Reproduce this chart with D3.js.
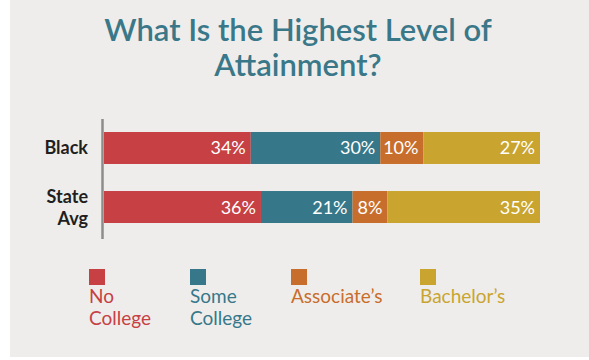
<!DOCTYPE html>
<html><head><meta charset="utf-8">
<script src="https://cdn.jsdelivr.net/npm/d3@7"></script>
<style>
html,body{margin:0;padding:0;background:#fff;}
svg{display:block;}
text{font-family:Lato,"Open Sans",sans-serif;}
</style></head>
<body><svg id="chart" width="589" height="360"></svg>
<script>
const titleLines = ["What Is the Highest Level of", "Attainment?"];
const groups = [["Black"], ["State", "Avg"]];
const seriesNames = ["No College", "Some College", "Associate’s", "Bachelor’s"];
const legendLines = [["No", "College"], ["Some", "College"], ["Associate’s"], ["Bachelor’s"]];
const noCollege = [34, 36];
const someCollege = [30, 21];
const associates = [10, 8];
const bachelors = [27, 35];
const colors = ["#c64044", "#36788a", "#c86e2c", "#c9a530"];

const svg = d3.select("#chart");
const W = 589, H = 360;
svg.append("rect").attr("x", 10).attr("y", 0).attr("width", W - 10).attr("height", 357).attr("fill", "#efedeb");

// title
svg.append("g").selectAll("text").data(titleLines).join("text")
  .attr("x", 298).attr("y", (d, i) => 41 + i * 35)
  .attr("text-anchor", "middle").attr("fill", "#3a7889")
  .attr("font-size", 31).attr("font-weight", 600)
  .text(d => d);

const rows = groups.map((g, i) => ({
  key: i,
  "No College": noCollege[i], "Some College": someCollege[i],
  "Associate’s": associates[i], "Bachelor’s": bachelors[i]
}));
const stack = d3.stack().keys(seriesNames).offset(d3.stackOffsetExpand);
const stacked = stack(rows);

const x = d3.scaleLinear().domain([0, 1]).range([104, 540]);
const y = d3.scaleBand().domain(d3.range(groups.length)).range([132, 223]).paddingInner(0.458).paddingOuter(0);

const layers = svg.append("g").selectAll("g").data(stacked).join("g")
  .attr("fill", (d, i) => colors[i]);
layers.selectAll("rect").data(d => d).join("rect")
  .attr("x", d => x(d[0])).attr("width", d => x(d[1]) - x(d[0]))
  .attr("y", (d, i) => y(i)).attr("height", y.bandwidth());

layers.each(function(layer, li) {
  d3.select(this).selectAll("text").data(layer).join("text")
    .attr("x", d => x(d[1]) - 5)
    .attr("y", (d, i) => y(i) + y.bandwidth() / 2 + 6.5)
    .attr("text-anchor", "end").attr("fill", "#fff")
    .attr("font-size", 18).attr("font-weight", 400)
    .text((d, i) => rows[i][seriesNames[li]] + "%");
});

// axis line
svg.append("line").attr("x1", 102.5).attr("x2", 102.5).attr("y1", 119).attr("y2", 239)
  .attr("stroke", "#8c8c8c").attr("stroke-width", 2.5);

// category labels
const cat = svg.append("g").selectAll("text").data(groups).join("text")
  .attr("text-anchor", "end").attr("fill", "#1f1f1f")
  .attr("font-size", 18).attr("font-weight", 700);
cat.each(function(lines, i) {
  const cy = y(i) + y.bandwidth() / 2;
  const start = cy + 6.5 - (lines.length - 1) * 11;
  d3.select(this).selectAll("tspan").data(lines).join("tspan")
    .attr("x", 88).attr("y", (d, j) => start + j * 22).text(d => d);
});

// legend
const legendX = [89, 190, 291, 420];
const lg = svg.append("g").selectAll("g").data(seriesNames).join("g")
  .attr("transform", (d, i) => `translate(${legendX[i]},269)`);
lg.append("rect").attr("width", 16).attr("height", 16).attr("fill", (d, i) => colors[i]);
lg.append("text").attr("fill", (d, i) => colors[i]).attr("font-size", 19).attr("font-weight", 400)
  .each(function(d, i) {
    d3.select(this).selectAll("tspan").data(legendLines[i]).join("tspan")
      .attr("x", 0).attr("y", (t, j) => 33.5 + j * 22).text(t => t);
  });
</script></body></html>
